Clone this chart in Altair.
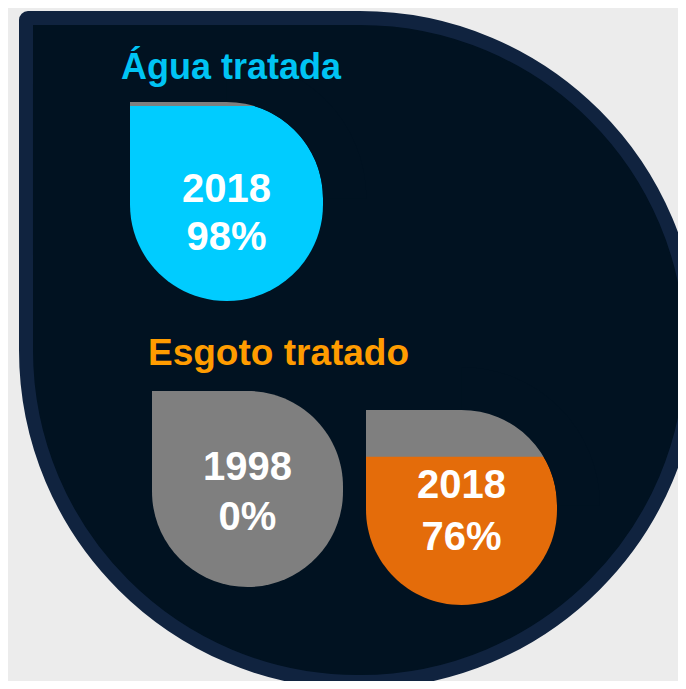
import math
import altair as alt
import pandas as pd

# ---------------- data ----------------
groups = ["Água tratada", "Esgoto tratado", "Esgoto tratado"]
years = ["2018", "1998", "2018"]
percents = [98, 0, 76]
titles = ["Água tratada", "Esgoto tratado"]

# ---------------- layout (page pixels) ----------------
W, H = 670, 673
OFF = 8
drop_x0 = [130, 152, 366]
drop_x1 = [323, 343, 557]
drop_y0 = [102, 391, 410]
drop_y1 = [301, 587, 605]
year_base = [202, 480, 498]
pct_base = [250, 530, 550]
title_x = [121, 148]
title_y = [79, 365]
title_size = [36, 37]

# ---------------- style ----------------
title_colors = ["#00c4f4", "#ff9c00"]
fill_colors = {"Água tratada": "#00ccff", "Esgoto tratado": "#e46c0a"}
GRAY = "#7f7f7f"
NAVY = "#011221"
BORDER = "#10233f"
PAGE = "#ececec"
FONT = "Liberation Sans"

xs = alt.Scale(domain=[OFF, OFF + W], range=[0, W], zero=False, nice=False)
ys = alt.Scale(domain=[OFF, OFF + H], range=[0, H], zero=False, nice=False)

# drops
rows = []
for g, yr, p, x0, x1, y0, y1, yb, pb in zip(groups, years, percents, drop_x0, drop_x1,
                                           drop_y0, drop_y1, year_base, pct_base):
    level = y0 + (1 - p / 100) * (y1 - y0)
    rows.append(dict(group=g, year=yr, pct=p, label=f"{p}%", x0=x0, x1=x1, y0=y0, y1=y1,
                     level=level, yb=yb, pb=pb, xc=(x0 + x1) / 2,
                     color=fill_colors[g] if p > 0 else GRAY))
drops = pd.DataFrame(rows)
bands = drops[(drops.pct > 0) & (drops.pct < 100)]

# masks restoring the background outside the rounded corners where the gray band is square
mask_rows = []
for _, d in bands.iterrows():
    r = min(d.x1 - d.x0, d.y1 - d.y0) / 2
    mask_rows.append(dict(cx=d.x1 - r, cy=d.y0 + r, r=r, r2=r * 1.45, t1=0.0, t2=math.pi / 2))
    if d.level > d.y1 - r:
        mask_rows.append(dict(cx=d.x1 - r, cy=d.y1 - r, r=r, r2=r * 1.45, t1=math.pi / 2, t2=math.pi))
        mask_rows.append(dict(cx=d.x0 + r, cy=d.y1 - r, r=r, r2=r * 1.45, t1=math.pi, t2=3 * math.pi / 2))
masks = pd.DataFrame(mask_rows)

bg = pd.DataFrame([dict(x=26, x2=692, y=18, y2=682)])
tdf = pd.DataFrame(dict(text=titles, x=title_x, y=title_y, size=title_size, color=title_colors))

background = alt.Chart(bg).mark_rect(
    fill=NAVY, stroke=BORDER, strokeWidth=14,
    cornerRadiusTopLeft=2, cornerRadiusTopRight=340,
    cornerRadiusBottomLeft=340, cornerRadiusBottomRight=340,
).encode(
    x=alt.X("x:Q", scale=xs, axis=None), x2="x2:Q",
    y=alt.Y("y:Q", scale=ys, axis=None), y2="y2:Q",
)

drop_marks = alt.Chart(drops).mark_rect(
    cornerRadiusTopLeft=0, cornerRadiusTopRight=200,
    cornerRadiusBottomLeft=200, cornerRadiusBottomRight=200,
).encode(
    x=alt.X("x0:Q", scale=xs, axis=None), x2="x1:Q",
    y=alt.Y("y0:Q", scale=ys, axis=None), y2="y1:Q",
    fill=alt.Fill("color:N", scale=None, legend=None),
)

band_marks = alt.Chart(bands).mark_rect(fill=GRAY).encode(
    x=alt.X("x0:Q", scale=xs, axis=None), x2="x1:Q",
    y=alt.Y("y0:Q", scale=ys, axis=None), y2="level:Q",
)

mask_marks = alt.Chart(masks).mark_arc(fill=NAVY).encode(
    x=alt.X("cx:Q", scale=xs, axis=None),
    y=alt.Y("cy:Q", scale=ys, axis=None),
    radius=alt.Radius("r:Q", scale=None), radius2="r2:Q",
    theta=alt.Theta("t1:Q", scale=None), theta2="t2:Q",
)

year_text = alt.Chart(drops).mark_text(
    font=FONT, fontWeight="bold", fontSize=40, color="white", align="center", baseline="alphabetic"
).encode(
    x=alt.X("xc:Q", scale=xs, axis=None), y=alt.Y("yb:Q", scale=ys, axis=None), text="year:N"
)
pct_text = alt.Chart(drops).mark_text(
    font=FONT, fontWeight="bold", fontSize=40, color="white", align="center", baseline="alphabetic"
).encode(
    x=alt.X("xc:Q", scale=xs, axis=None), y=alt.Y("pb:Q", scale=ys, axis=None), text="label:N"
)
title_text = alt.Chart(tdf).mark_text(
    font=FONT, fontWeight="bold", align="left", baseline="alphabetic"
).encode(
    x=alt.X("x:Q", scale=xs, axis=None), y=alt.Y("y:Q", scale=ys, axis=None), text="text:N",
    size=alt.Size("size:Q", scale=None, legend=None),
    color=alt.Color("color:N", scale=None, legend=None),
)

chart = alt.layer(
    background, drop_marks, band_marks, mask_marks, year_text, pct_text, title_text
).properties(
    width=W, height=H, background=PAGE, padding=0, autosize="none"
).configure_view(strokeWidth=0)

chart.save("out.html", embed_options={"renderer": "svg", "actions": False})
